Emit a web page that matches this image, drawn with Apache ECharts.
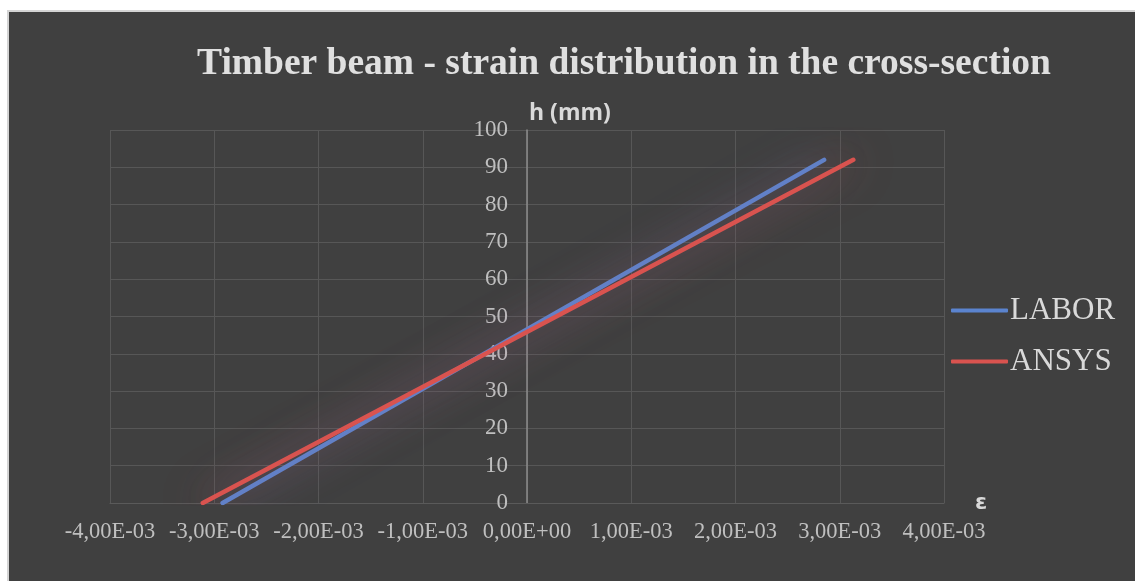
<!DOCTYPE html>
<html>
<head>
<meta charset="utf-8">
<script src="https://cdn.jsdelivr.net/npm/echarts@6/dist/echarts.min.js"></script>
<style>
html,body{margin:0;padding:0;background:#ffffff;}
#chart{width:1135px;height:581px;}
</style>
</head>
<body>
<div id="chart"></div>
<script>
// Data
const seriesNames = ['LABOR', 'ANSYS'];
const laborStrain = [-2.92e-3, 2.85e-3];
const laborHeight = [0, 92];
const ansysStrain = [-3.11e-3, 3.13e-3];
const ansysHeight = [0, 92];
const xTicks = { min: -0.004, max: 0.004, interval: 0.001 };
const yTicks = { min: 0, max: 100, interval: 10 };

function pairs(xs, ys) { return xs.map((x, i) => [x, ys[i]]); }

function fmtExp(v) {
  if (Math.abs(v) < 1e-12) v = 0;
  let s = v.toExponential(2);
  let m = s.split('e');
  let mant = m[0].replace('.', ',');
  let exp = parseInt(m[1], 10);
  let sign = exp < 0 ? '-' : '+';
  let e = String(Math.abs(exp)).padStart(2, '0');
  return mant + 'E' + sign + e;
}

const blue = '#5b84cf';
const red = '#d9534f';
const serif = '"Liberation Serif", "Times New Roman", serif';

const gridLeft = 110, gridRight = 191;
const plotW = 1135 - gridLeft - gridRight;
// y axis sits at x = 0 of the strain axis
const yAxisOffset = -plotW * (0 - xTicks.min) / (xTicks.max - xTicks.min);

const chart = echarts.init(document.getElementById('chart'));
chart.setOption({
  backgroundColor: '#ffffff',
  animation: false,
  graphic: [{
    type: 'rect', z: -10, silent: true,
    shape: { x: 8, y: 11, width: 1140, height: 580 },
    style: { fill: '#404040', stroke: '#d4d4d4', lineWidth: 2 }
  }],
  title: {
    text: 'Timber beam - strain distribution in the cross-section',
    left: 619, top: 40, textAlign: 'center',
    textStyle: { fontFamily: serif, fontWeight: 'bold', fontSize: 37.5, color: '#e0e0e0' }
  },
  legend: {
    orient: 'vertical', left: 946, top: 290,
    itemWidth: 57, itemHeight: 4, itemGap: 20,
    icon: 'roundRect',
    data: seriesNames,
    textStyle: { fontFamily: serif, fontSize: 31, color: '#d9d9d9', padding: [0, 0, 0, -3] }
  },
  grid: { left: gridLeft, right: gridRight, top: 130, bottom: 78 },
  xAxis: {
    type: 'value', min: xTicks.min, max: xTicks.max, interval: xTicks.interval,
    name: 'ε', nameLocation: 'end', nameGap: 31,
    nameTextStyle: { fontFamily: '"DejaVu Sans", sans-serif', fontWeight: 'bold', fontSize: 22, color: '#d9d9d9', padding: [0, 0, 30, 0] },
    axisLine: { show: true, onZero: false, lineStyle: { color: '#5a5a5a', width: 1 } },
    axisTick: { show: false },
    splitLine: { show: true, lineStyle: { color: '#575757', width: 1 } },
    axisLabel: { formatter: fmtExp, margin: 18, fontFamily: serif, fontSize: 22.5, color: '#bfbfbf' }
  },
  yAxis: {
    type: 'value', min: yTicks.min, max: yTicks.max, interval: yTicks.interval,
    position: 'left', offset: yAxisOffset,
    name: 'h (mm)', nameLocation: 'end', nameGap: 5,
    nameTextStyle: { fontFamily: '"Open Sans", sans-serif', fontWeight: 'bold', fontSize: 23, color: '#d9d9d9', align: 'left', padding: [0, 0, 0, 2] },
    axisLine: { show: true, onZero: false, lineStyle: { color: '#8c8c8c', width: 1.5 } },
    axisTick: { show: false },
    splitLine: { show: true, lineStyle: { color: '#575757', width: 1 } },
    axisLabel: { margin: 19, fontFamily: serif, fontSize: 23, color: '#bfbfbf' }
  },
  series: [
    {
      name: seriesNames[0], type: 'line', showSymbol: false, symbol: 'none',
      data: pairs(laborStrain, laborHeight),
      itemStyle: { color: blue },
      lineStyle: { color: blue, width: 4.5, cap: 'round', shadowBlur: 40, shadowColor: 'rgba(91,132,207,0.7)' },
      z: 3
    },
    {
      name: seriesNames[1], type: 'line', showSymbol: false, symbol: 'none',
      data: pairs(ansysStrain, ansysHeight),
      itemStyle: { color: red },
      lineStyle: { color: red, width: 4.5, cap: 'round', shadowBlur: 40, shadowColor: 'rgba(217,83,79,0.7)' },
      z: 4
    }
  ]
});
</script>
</body>
</html>
